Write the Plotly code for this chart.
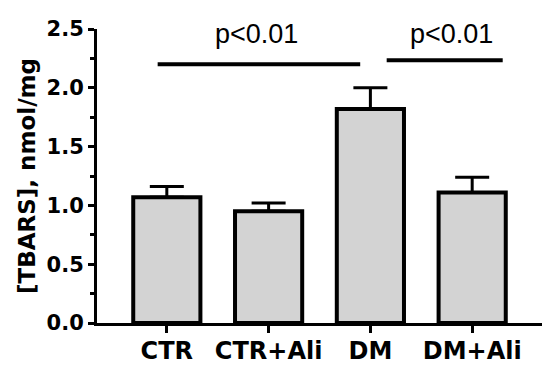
import plotly.graph_objects as go

categories = ["CTR", "CTR+Ali", "DM", "DM+Ali"]
tbars_mean = [1.07, 0.95, 1.82, 1.11]
tbars_sem = [0.09, 0.07, 0.18, 0.13]
y_ticks = [0.0, 0.5, 1.0, 1.5, 2.0, 2.5]
y_ticklabels = ["0.0", "0.5", "1.0", "1.5", "2.0", "2.5"]
sig_labels = ["p<0.01", "p<0.01"]
sig_x0 = [-0.09, 2.16]
sig_x1 = [1.90, 3.30]
sig_y = [2.20, 2.235]
sig_text_x = [0.88, 2.80]
sig_text_y = [2.455, 2.455]

FONT = "Liberation Sans, Arial, sans-serif"
BFONT = "DejaVu Sans, sans-serif"

fig = go.Figure()
fig.add_trace(go.Bar(
    x=categories,
    y=tbars_mean,
    width=0.66,
    marker=dict(color="#d3d3d3", line=dict(color="black", width=4)),
    error_y=dict(type="data", symmetric=False, array=tbars_sem,
                 arrayminus=[0] * len(tbars_sem),
                 color="black", thickness=3, width=17),
    showlegend=False,
))

for x0, x1, y in zip(sig_x0, sig_x1, sig_y):
    fig.add_shape(type="line", xref="x", yref="y", x0=x0, x1=x1, y0=y, y1=y,
                  line=dict(color="black", width=4))

for t, x, y in zip(sig_labels, sig_text_x, sig_text_y):
    fig.add_annotation(x=x, y=y, xref="x", yref="y", text=t, showarrow=False,
                       font=dict(family=FONT, size=27, color="black"),
                       xanchor="center", yanchor="middle")

# page body has an 8px default margin; size the figure so the page is 550x376
fig.update_layout(
    width=534, height=360,
    margin=dict(l=89, r=0, t=21, b=45),
    plot_bgcolor="white", paper_bgcolor="white",
    font=dict(family=FONT, color="black"),
)

fig.update_xaxes(
    range=[-0.686, 3.686],
    automargin=False,
    showline=True, linecolor="black", linewidth=3,
    ticks="outside", ticklen=7, tickwidth=3, tickcolor="black",
    tickfont=dict(family=BFONT, size=24, color="black", weight="bold"),
    ticklabelstandoff=-3,
    showgrid=False, zeroline=False,
)

fig.update_yaxes(
    range=[0, 2.5],
    automargin=False,
    tickvals=y_ticks, ticktext=y_ticklabels,
    showline=True, linecolor="black", linewidth=3,
    ticks="outside", ticklen=6, tickwidth=3, tickcolor="black",
    minor=dict(tickvals=[0.25, 0.75, 1.25, 1.75, 2.25], ticks="outside",
               ticklen=4, tickwidth=3, tickcolor="black"),
    tickfont=dict(family=BFONT, size=21, color="black", weight="bold"),
    ticklabelstandoff=0,
    title=dict(text="[TBARS], nmol/mg", standoff=5,
               font=dict(family=BFONT, size=23, color="black", weight="bold")),
    showgrid=False, zeroline=False,
)

fig.write_html("out.html")
